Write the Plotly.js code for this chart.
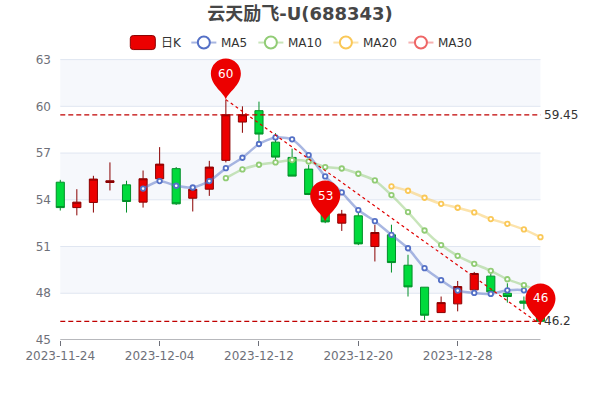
<!DOCTYPE html>
<html><head><meta charset="utf-8">
<script src="https://cdn.plot.ly/plotly-3.0.1.min.js"></script>
<style>html,body{margin:0;padding:0;background:#fff}#c{width:600px;height:400px}</style>
</head><body><div id="c"></div>
<script>
const dates=['2023-11-24','2023-11-27','2023-11-28','2023-11-29','2023-11-30','2023-12-01','2023-12-04','2023-12-05','2023-12-06','2023-12-07','2023-12-08','2023-12-11','2023-12-12','2023-12-13','2023-12-14','2023-12-15','2023-12-18','2023-12-19','2023-12-20','2023-12-21','2023-12-22','2023-12-25','2023-12-26','2023-12-27','2023-12-28','2023-12-29','2024-01-02','2024-01-03','2024-01-04','2024-01-05'];
const open=[55.13,53.5,53.83,55.11,54.96,53.85,55.35,56.0,54.1,54.68,56.53,58.99,59.72,57.7,56.72,55.97,54.0,52.5,52.97,51.0,51.75,49.8,48.39,46.76,47.32,48.22,49.1,48.0,47.5,46.75];
const close=[53.5,53.85,55.33,55.22,53.89,55.35,56.29,53.74,54.68,56.1,59.46,59.46,58.22,56.74,55.52,54.34,52.58,53.08,51.17,51.9,49.97,48.41,46.59,47.4,48.43,49.27,48.09,47.79,47.36,46.2];
const high=[55.28,54.68,55.54,56.4,55.22,55.88,57.38,56.1,54.68,56.5,60.43,60.0,60.3,58.28,57.28,56.25,54.2,53.35,53.36,52.4,52.4,50.47,48.39,47.79,48.79,49.37,49.24,48.64,47.79,46.75];
const low=[53.31,53.0,53.18,54.6,53.18,53.5,55.35,53.67,53.25,54.25,56.4,58.3,57.6,56.57,55.52,54.3,52.5,52.0,51.09,50.04,49.33,47.79,46.29,46.76,46.84,48.22,47.9,47.4,46.97,46.0];
const ma5=[null,null,null,null,null,54.72,55.2,54.9,54.79,55.2,56.03,56.7,57.58,58.0,57.88,56.87,55.5,54.47,53.34,52.63,51.75,50.89,49.61,48.84,48.17,48.02,47.96,48.19,48.19,47.6];
const ma10=[null,null,null,null,null,null,null,null,null,null,55.39,55.95,56.25,56.4,56.55,56.46,56.1,56.01,55.67,55.24,54.3,53.21,52.03,51.09,50.4,49.89,49.44,48.9,48.52,48.1];
const ma20=[null,null,null,null,null,null,null,null,null,null,null,null,null,null,null,null,null,null,null,null,54.86,54.58,54.13,53.74,53.49,53.19,52.76,52.46,52.1,51.6];
const yTicks=[45,48,51,54,57,60,63];
const xTicks=['2023-11-24','2023-12-04','2023-12-12','2023-12-20','2023-12-28'];
const maNames=['MA5','MA10','MA20','MA30'];
const maColors=['#5470c6','#91cc75','#fac858','#ee6666'];
const pins=[{x:'2023-12-08',y:60.43,t:'60'},{x:'2023-12-18',y:52.6,t:'53'},{x:'2024-01-05',y:46.0,t:'46'}];
const hLines=[{y:59.45,t:'59.45'},{y:46.2,t:'46.2'}];
const slope={x:['2023-12-08','2024-01-05'],y:[60.43,46.0]};

const font='"DejaVu Sans","Noto Sans CJK SC",sans-serif';
const W=600,H=400;
const step=480/29;
const L=60-0.5*step,R=540+1.3*step,T=340-(64-45)*280/18,B=340;
const first=dates[0],last=dates[dates.length-1];
const markRed='#c00000';

const traces=[{type:'candlestick',x:dates,open,close,high,low,width:0.46,whiskerwidth:0,
  increasing:{fillcolor:'#ec0000',line:{color:'#8a0000',width:1}},
  decreasing:{fillcolor:'#00da3c',line:{color:'#008f28',width:1}},
  hoverinfo:'skip',showlegend:false}];
[ma5,ma10,ma20].forEach((v,i)=>{
  const c=maColors[i];
  traces.push({type:'scatter',mode:'lines',x:dates,y:v,line:{color:c,width:2.5,shape:'spline',smoothing:0.6},opacity:.5,hoverinfo:'skip',showlegend:false});
  traces.push({type:'scatter',mode:'markers',x:dates,y:v,marker:{color:'#fff',size:4.5,line:{color:c,width:1.8}},hoverinfo:'skip',showlegend:false,name:maNames[i]});
});
hLines.forEach(h=>traces.push({type:'scatter',mode:'lines',x:[first,last],y:[h.y,h.y],line:{color:markRed,width:1.2,dash:'5px,3px'},hoverinfo:'skip',showlegend:false}));
traces.push({type:'scatter',mode:'lines',x:slope.x,y:slope.y,line:{color:'#e00000',width:1.2,dash:'3px,3px'},hoverinfo:'skip',showlegend:false});

const shapes=[];
[[48,51],[54,57],[60,63]].forEach(b=>shapes.push({type:'rect',xref:'x',yref:'y',x0:first,x1:last,y0:b[0],y1:b[1],fillcolor:'#f6f8fc',line:{width:0},layer:'below'}));
yTicks.slice(1).forEach(v=>shapes.push({type:'line',xref:'x',yref:'y',x0:first,x1:last,y0:v,y1:v,line:{color:'#e0e6f1',width:1},layer:'below'}));
shapes.push({type:'line',xref:'x',yref:'y',x0:first,x1:last,y0:45,y1:45,line:{color:'#6e7079',width:1},layer:'below'});
const pinPath='M0,0 C-2,7 -15,14 -15,26 C-15,34.3 -8.3,41 0,41 C8.3,41 15,34.3 15,26 C15,14 2,7 0,0 Z';
pins.forEach(p=>shapes.push({type:'path',xref:'x',yref:'y',xsizemode:'pixel',ysizemode:'pixel',xanchor:p.x,yanchor:p.y,path:pinPath,fillcolor:'#ec0000',line:{width:0},layer:'above'}));
const PW=R-L,PH=B-T;
const lx=x=>(x-L)/PW, ly=y=>(B-y)/PH;
const LY=43;
shapes.push({type:'path',xref:'paper',yref:'paper',path:(()=>{
  const x0=lx(130),x1=lx(155),y0=ly(36),y1=ly(50),rx=3/PW,ry=3/PH;
  return `M${x0+rx},${y0} L${x1-rx},${y0} Q${x1},${y0} ${x1},${y0-ry} L${x1},${y1+ry} Q${x1},${y1} ${x1-rx},${y1} L${x0+rx},${y1} Q${x0},${y1} ${x0},${y1+ry} L${x0},${y0-ry} Q${x0},${y0} ${x0+rx},${y0} Z`;
})(),fillcolor:'#ec0000',line:{color:'#8a0000',width:1}});
const legX=[191,258,333,408];
legX.forEach((x,i)=>{
  shapes.push({type:'line',xref:'paper',yref:'paper',x0:lx(x),x1:lx(x+25),y0:ly(LY),y1:ly(LY),line:{color:maColors[i],width:2},opacity:.5});
  shapes.push({type:'circle',xref:'paper',yref:'paper',x0:lx(x+12.5-6),x1:lx(x+12.5+6),y0:ly(LY+6),y1:ly(LY-6),fillcolor:'#fff',line:{color:maColors[i],width:2}});
});
const annotations=[];
pins.forEach(p=>annotations.push({xref:'x',yref:'y',x:p.x,y:p.y,yshift:26,showarrow:false,text:p.t,font:{family:font,size:12,color:'#fff'},xanchor:'center',yanchor:'middle'}));
hLines.forEach(h=>annotations.push({xref:'x',yref:'y',x:last,y:h.y,xshift:2,showarrow:false,text:h.t,font:{family:font,size:12,color:'#333'},xanchor:'left',yanchor:'middle'}));
annotations.push({xref:'paper',yref:'paper',x:lx(160),y:ly(LY),showarrow:false,text:'日K',font:{family:font,size:12,color:'#333'},xanchor:'left',yanchor:'middle',xshift:-1});
legX.forEach((x,i)=>annotations.push({xref:'paper',yref:'paper',x:lx(x+29),y:ly(LY),showarrow:false,text:maNames[i],font:{family:font,size:12,color:'#333'},xanchor:'left',yanchor:'middle',xshift:-1}));

Plotly.newPlot('c',traces,{
  width:W,height:H,margin:{l:L,r:W-R,t:T,b:H-B,pad:0},
  paper_bgcolor:'#fff',plot_bgcolor:'#fff',showlegend:false,hovermode:false,dragmode:false,
  title:{text:'云天励飞-U(688343)',x:300/W,xref:'container',xanchor:'center',y:1-14/H,yref:'container',yanchor:'middle',font:{family:font,size:18,color:'#464646',weight:'bold'}},
  xaxis:{type:'category',range:[-0.5,30.3],tickmode:'array',tickvals:xTicks,ticktext:xTicks,ticks:'outside',ticklen:5,tickcolor:'#6e7079',tickwidth:1,showgrid:false,zeroline:false,showline:false,rangeslider:{visible:false},tickfont:{family:font,size:12,color:'#6e7079'},tickangle:0,automargin:false},
  yaxis:{range:[45,64],tickmode:'array',tickvals:yTicks,ticks:'',showgrid:false,zeroline:false,showline:false,tickfont:{family:font,size:12,color:'#6e7079'},automargin:false},
  shapes,annotations
},{displayModeBar:false,staticPlot:true});
</script></body></html>
